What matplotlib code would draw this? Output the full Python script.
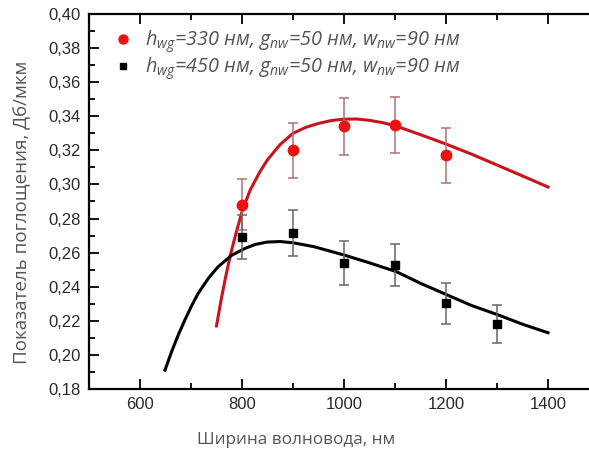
import numpy as np
import matplotlib
matplotlib.use("Agg")
import matplotlib.pyplot as plt
from matplotlib.lines import Line2D
from matplotlib.ticker import MultipleLocator, FuncFormatter

plt.rcParams['mathtext.fontset'] = 'custom'
plt.rcParams['mathtext.it'] = 'Open Sans:italic'
plt.rcParams['mathtext.rm'] = 'Open Sans'

# measured points (width, nm)
x_330 = [800, 900, 1000, 1100, 1200]
y_330 = [0.288, 0.320, 0.334, 0.335, 0.317]
e_330 = [0.015, 0.016, 0.017, 0.0165, 0.016]

x_450 = [800, 900, 1000, 1100, 1200, 1300]
y_450 = [0.269, 0.2715, 0.254, 0.2527, 0.2304, 0.218]
e_450 = [0.013, 0.0135, 0.013, 0.0125, 0.012, 0.011]

# fit curves
fx_330 = [750, 759, 768, 778, 790, 801, 816, 835, 850, 875, 900, 925, 950,
          975, 1000, 1025, 1050, 1075, 1100, 1150, 1200, 1250, 1300, 1350, 1400]
fy_330 = [0.2170, 0.2322, 0.2459, 0.2596, 0.2733, 0.2850, 0.2967, 0.3074,
          0.3145, 0.3235, 0.3300, 0.3335, 0.3358, 0.3375, 0.3383, 0.3384,
          0.3376, 0.3363, 0.3345, 0.3292, 0.3237, 0.3178, 0.3114, 0.3050, 0.2985]

fx_450 = [649, 662, 675, 688, 701, 714, 734, 753, 780, 806, 826, 849, 875, 900,
          941, 1000, 1050, 1103, 1150, 1203, 1250, 1303, 1350, 1400]
fy_450 = [0.1911, 0.2019, 0.2117, 0.2205, 0.2287, 0.2361, 0.2449, 0.2517,
          0.2585, 0.2625, 0.2648, 0.2662, 0.2665, 0.2658, 0.2635, 0.2586,
          0.2540, 0.2488, 0.2420, 0.2351, 0.2290, 0.2234, 0.2180, 0.2130]

labels = [r'$h_{wg}$=330 нм, $g_{nw}$=50 нм, $w_{nw}$=90 нм',
          r'$h_{wg}$=450 нм, $g_{nw}$=50 нм, $w_{nw}$=90 нм']

fig = plt.figure(figsize=(5.89, 4.49), dpi=100)
ax = fig.add_axes([89 / 589, 60 / 449, 510 / 589, 375 / 449])

ax.plot(fx_330, fy_330, color='#c8141e', lw=2.2, zorder=2)
ax.plot(fx_450, fy_450, color='black', lw=2.2, zorder=2)

ax.errorbar(x_330, y_330, yerr=e_330, fmt='none', ecolor='#b07070',
            elinewidth=1.1, capsize=3.5, capthick=1.1, zorder=3)
ax.errorbar(x_450, y_450, yerr=e_450, fmt='none', ecolor='#666666',
            elinewidth=1.1, capsize=3.5, capthick=1.1, zorder=3)
ax.plot(x_330, y_330, 'o', color='#ee1111', ms=7.5, mec='#ee1111', zorder=4)
ax.plot(x_450, y_450, 's', color='black', ms=6, zorder=4)

ax.set_xlim(500, 1500)
ax.set_ylim(0.18, 0.40)
ax.xaxis.set_major_locator(MultipleLocator(200))
ax.xaxis.set_minor_locator(MultipleLocator(100))
ax.yaxis.set_major_locator(MultipleLocator(0.02))
ax.yaxis.set_minor_locator(MultipleLocator(0.01))
ax.yaxis.set_major_formatter(FuncFormatter(lambda v, p: f'{v:.2f}'.replace('.', ',')))
ax.xaxis.set_major_formatter(FuncFormatter(lambda v, p: f'{v:.0f}'))

ax.tick_params(which='both', direction='in', top=True, right=True, width=1.3,
               colors='black', labelcolor='#2a2a2a', labelsize=12, pad=6)
ax.tick_params(which='major', length=7)
ax.tick_params(which='minor', length=4)
for lab in ax.get_xticklabels() + ax.get_yticklabels():
    lab.set_family('Liberation Sans')
for s in ax.spines.values():
    s.set_linewidth(1.6)

ax.set_xlabel('Ширина волновода, нм', family='Open Sans', fontsize=12.3,
              color='#555555')
ax.xaxis.set_label_coords(207 / 510, -0.115)
ax.set_ylabel('Показатель поглощения, Дб/мкм', family='Open Sans', fontsize=13.5,
              color='#555555')
ax.yaxis.set_label_coords(-58 / 510, 0.47)

handles = [Line2D([], [], ls='none', marker='o', color='#ee1111', ms=6.5),
           Line2D([], [], ls='none', marker='s', color='black', ms=4.5)]
leg = ax.legend(handles, labels, loc='upper left', bbox_to_anchor=(0.012, 1.01),
                frameon=False, handlelength=1.0, handletextpad=0.6,
                labelspacing=0.02, prop={'family': 'Open Sans', 'style': 'italic',
                                         'size': 14.3})
for t in leg.get_texts():
    t.set_color('#555555')

fig.savefig('out.png', dpi=100)
